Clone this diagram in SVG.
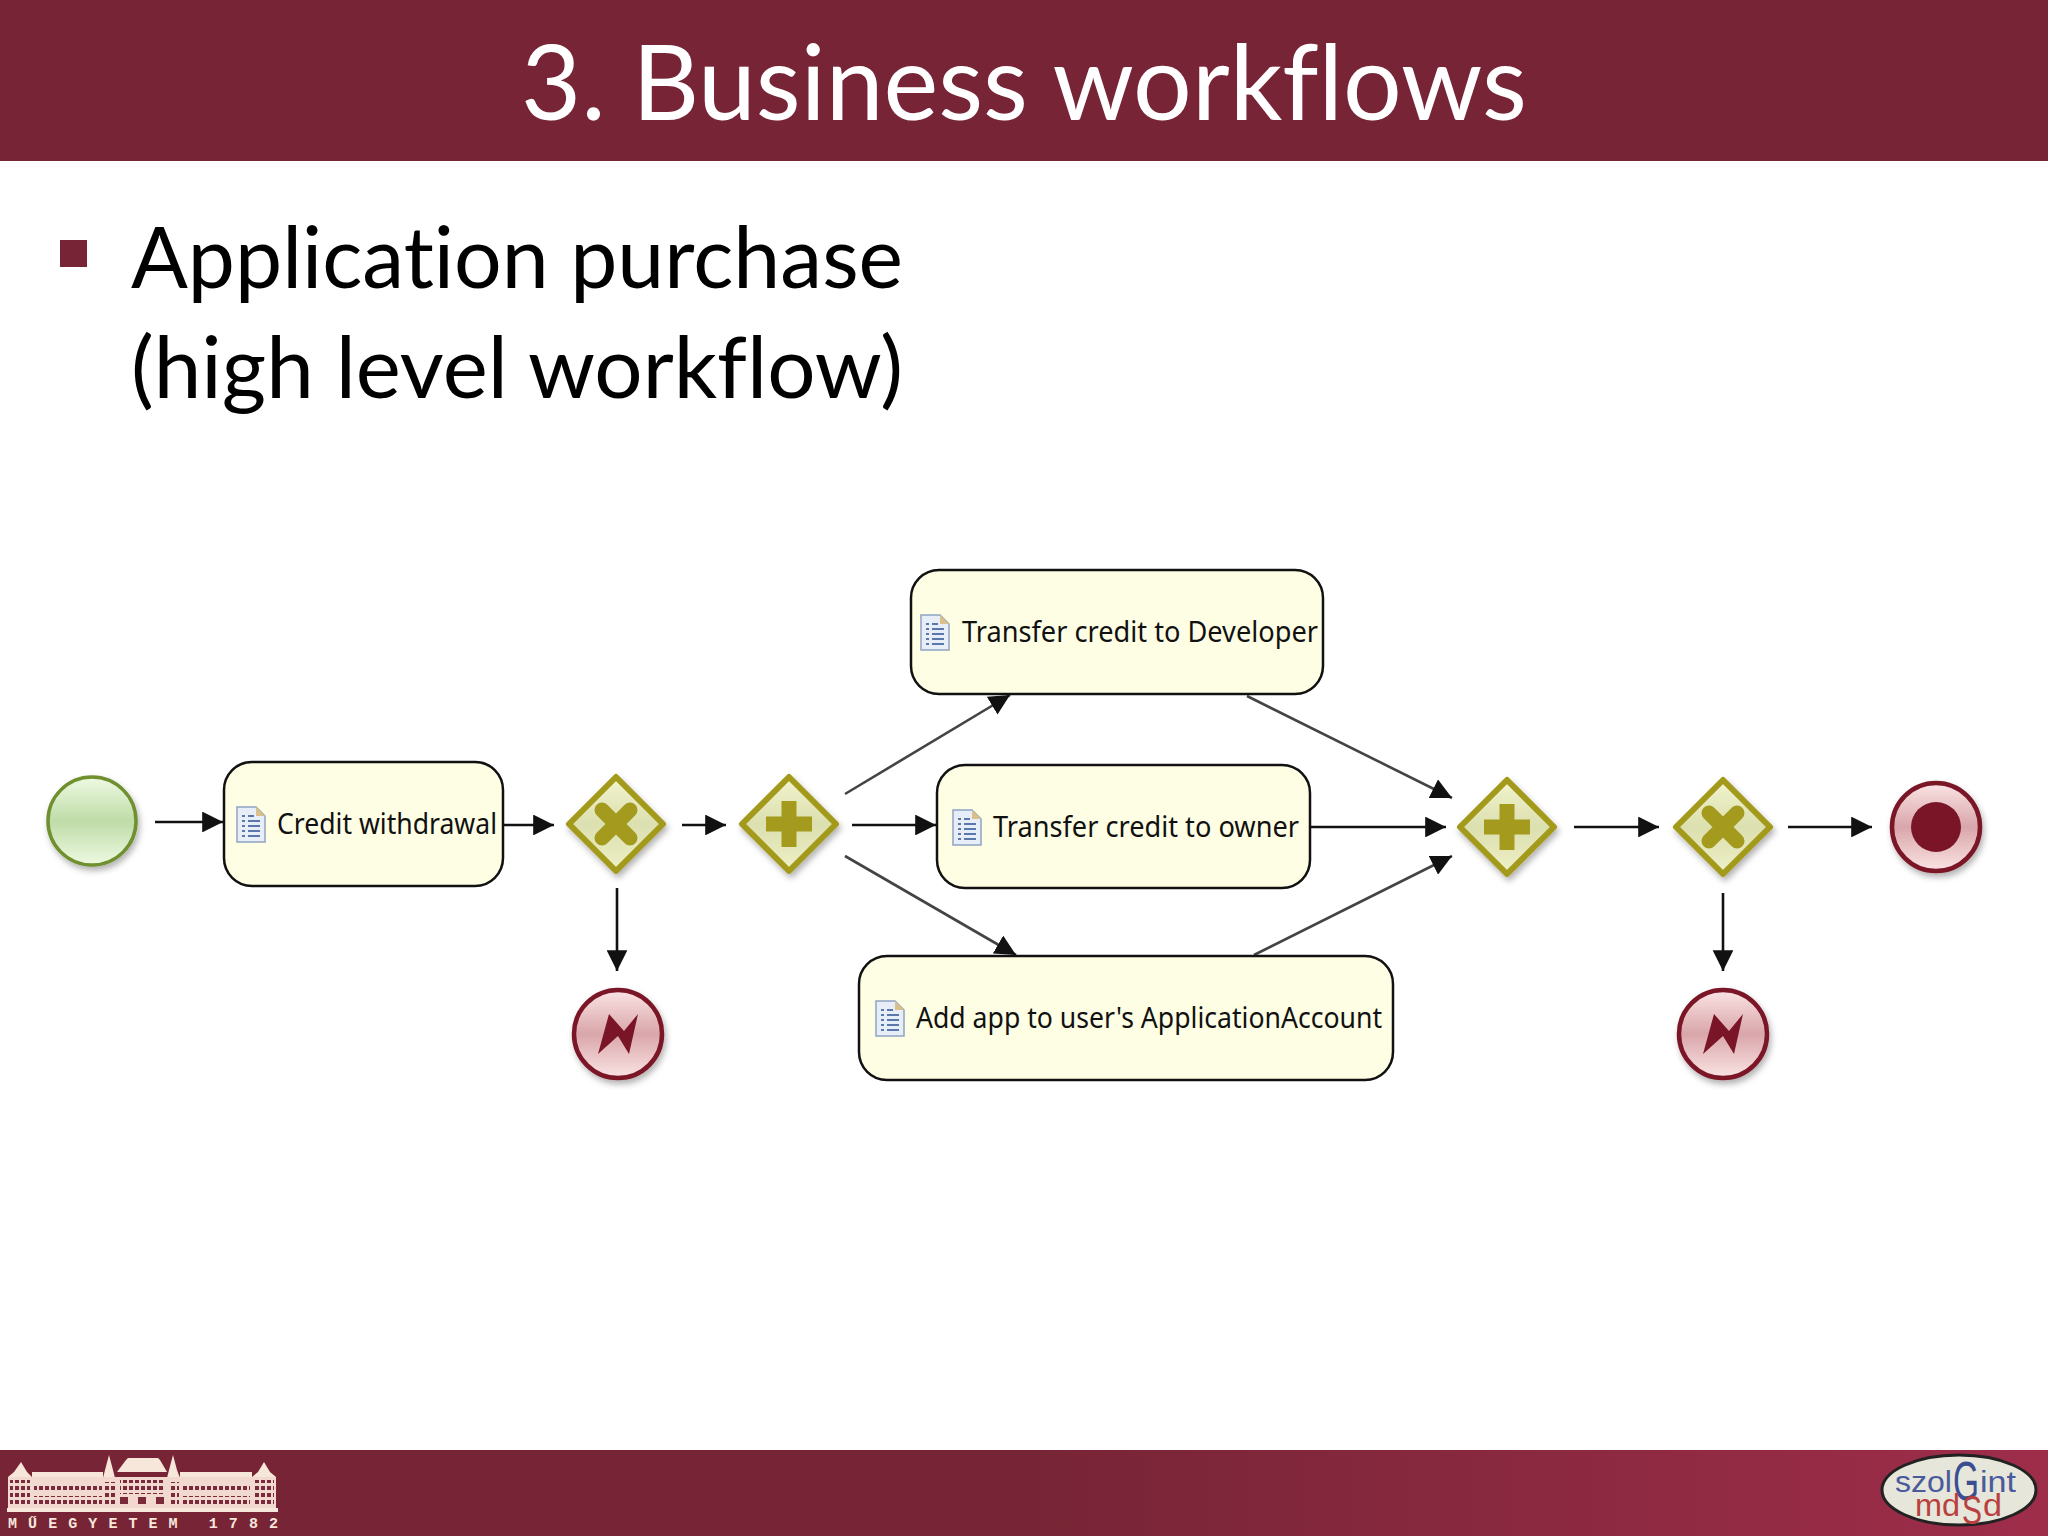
<svg xmlns="http://www.w3.org/2000/svg" width="2048" height="1536" viewBox="0 0 2048 1536">
<style>
.h{font-family:"Lato","Open Sans","Liberation Sans",sans-serif;font-variant-ligatures:none}
.t{font-family:"Noto Sans","Open Sans","Liberation Sans",sans-serif;font-size:29px;fill:#111}
.task{fill:#fefee4;stroke:#111;stroke-width:2.5}
.gw{fill:url(#gg);stroke:#a39a1e;stroke-width:6;stroke-linejoin:round;filter:url(#sh)}
.mark{fill:#a39a1e}
.xm{stroke:#a39a1e;stroke-width:15;stroke-linecap:round}
.err{fill:url(#gr);stroke:#7a1528;stroke-width:4.5;filter:url(#sh)}
.dark{fill:#7a1528}
.c line{stroke:#111;stroke-width:2.6;marker-end:url(#a)}
.c line.d{stroke:#444}
.ft{font-family:"Liberation Mono",monospace;font-weight:bold;fill:#f7e6da;font-size:15px}
.lg{font-family:"Liberation Sans",sans-serif}
</style>
<defs>
<marker id="a" viewBox="0 0 10 10" refX="10" refY="5" markerWidth="8" markerHeight="8" markerUnits="strokeWidth" orient="auto"><path d="M0 0L10 5L0 10Z" fill="#111"/></marker>
<linearGradient id="gf" x1="0" x2="1" y1="0" y2="0"><stop offset="0" stop-color="#772536"/><stop offset=".5" stop-color="#772536"/><stop offset="1" stop-color="#9e2d4a"/></linearGradient>
<linearGradient id="gg" x1="0" x2="0" y1="0" y2="1"><stop offset="0" stop-color="#f2f4cf"/><stop offset=".5" stop-color="#dcdfae"/><stop offset="1" stop-color="#eef0c8"/></linearGradient>
<linearGradient id="gr" x1="0" x2="0" y1="0" y2="1"><stop offset="0" stop-color="#fbe4e4"/><stop offset=".5" stop-color="#d9a6aa"/><stop offset="1" stop-color="#fbe4e4"/></linearGradient>
<linearGradient id="gn" x1="0" x2="0" y1="0" y2="1"><stop offset="0" stop-color="#eef9e2"/><stop offset=".5" stop-color="#bfdca8"/><stop offset="1" stop-color="#eef9e2"/></linearGradient>
<filter id="sh" x="-20%" y="-20%" width="150%" height="150%"><feDropShadow dx="2" dy="4" stdDeviation="3" flood-color="#000" flood-opacity=".3"/></filter>
<pattern id="win" width="6" height="7" patternUnits="userSpaceOnUse" x="8" y="1478"><rect width="6" height="7" fill="#f2d9d0"/><rect x="1" y="1" width="4" height="4" fill="#7a2a3a"/></pattern>
<g id="ic"><path d="M0 0H19L28 9V35H0Z" fill="#e8eef8" stroke="#8fa4c4" stroke-width="1.5"/><path d="M19 0L28 9H19Z" fill="#dcc08a"/><path d="M5 9h3M11 9h6M5 14h3M11 14h12M5 19h3M11 19h12M5 24h3M11 24h12M5 29h3M11 29h12" stroke="#5a78ae" stroke-width="2"/></g>
<g id="gb"><path d="M0 -47L47 0L0 47L-47 0Z" class="gw"/></g>
<g id="x" class="xm"><path d="M-14 -14L14 14M14 -14L-14 14"/></g>
<path id="p" class="mark" d="M-7.5 -23H7.5V-7.5H23V7.5H7.5V23H-7.5V7.5H-23V-7.5H-7.5Z"/>
<path id="z" class="dark" d="M-20 20L-9 -20L6 -3L20 -20L11 20L0 2Z"/>
</defs>
<rect width="2048" height="1536" fill="#fff"/>
<rect width="2048" height="161" fill="#772536"/>
<text class="h" x="1024" y="120" font-size="104" fill="#fff" text-anchor="middle" textLength="1006" lengthAdjust="spacingAndGlyphs">3. Business workflows</text>
<rect x="60" y="240" width="27" height="27" fill="#772536"/>
<text class="h" x="131" y="288" font-size="86" fill="#000" textLength="772" lengthAdjust="spacingAndGlyphs">Application purchase</text>
<text class="h" x="131" y="398" font-size="86" fill="#000" textLength="772" lengthAdjust="spacingAndGlyphs">(high level workflow)</text>

<g class="c" id="connectors">
<line x1="155" y1="822" x2="223" y2="822"/>
<line x1="503" y1="825" x2="554" y2="825"/>
<line x1="682" y1="825" x2="726" y2="825"/>
<line x1="852" y1="825" x2="936" y2="825"/>
<line class="d" x1="845" y1="794" x2="1010" y2="695"/>
<line class="d" x1="845" y1="856" x2="1016" y2="955"/>
<line x1="1310" y1="827" x2="1446" y2="827"/>
<line class="d" x1="1247" y1="696" x2="1452" y2="798"/>
<line class="d" x1="1254" y1="955" x2="1452" y2="856"/>
<line x1="1574" y1="827" x2="1659" y2="827"/>
<line x1="1788" y1="827" x2="1872" y2="827"/>
<line x1="617" y1="888" x2="617" y2="971"/>
<line x1="1723" y1="893" x2="1723" y2="971"/>
</g>

<g id="start"><circle cx="92" cy="821" r="44" fill="url(#gn)" stroke="#6f8f2f" stroke-width="3.5" filter="url(#sh)"/></g>
<g id="task-credit"><rect class="task" x="224" y="762" width="279" height="124" rx="28"/><use href="#ic" x="237" y="807"/><text class="t" x="277" y="834" textLength="220" lengthAdjust="spacingAndGlyphs">Credit withdrawal</text></g>
<g id="gw-x1"><use href="#gb" x="616" y="824"/><use href="#x" x="616" y="824"/></g>
<g id="gw-p1"><use href="#gb" x="789" y="824"/><use href="#p" x="789" y="824"/></g>
<g id="task-dev"><rect class="task" x="911" y="570" width="412" height="124" rx="28"/><use href="#ic" x="921" y="615"/><text class="t" x="962" y="642" textLength="356" lengthAdjust="spacingAndGlyphs">Transfer credit to Developer</text></g>
<g id="task-owner"><rect class="task" x="937" y="765" width="373" height="123" rx="28"/><use href="#ic" x="953" y="810"/><text class="t" x="993" y="837" textLength="306" lengthAdjust="spacingAndGlyphs">Transfer credit to owner</text></g>
<g id="task-add"><rect class="task" x="859" y="956" width="534" height="124" rx="28"/><use href="#ic" x="876" y="1001"/><text class="t" x="916" y="1028" textLength="466" lengthAdjust="spacingAndGlyphs">Add app to user's ApplicationAccount</text></g>
<g id="gw-p2"><use href="#gb" x="1507" y="827"/><use href="#p" x="1507" y="827"/></g>
<g id="gw-x2"><use href="#gb" x="1723" y="827"/><use href="#x" x="1723" y="827"/></g>
<g id="end"><circle class="err" cx="1936" cy="827" r="44"/><circle class="dark" cx="1936" cy="827" r="25"/></g>
<g id="err1"><circle class="err" cx="618" cy="1034" r="44"/><use href="#z" x="618" y="1034"/></g>
<g id="err2"><circle class="err" cx="1723" cy="1034" r="44"/><use href="#z" x="1723" y="1034"/></g>

<rect y="1450" width="2048" height="86" fill="url(#gf)"/>
<g id="logo-left" fill="#f7e6da">
<path d="M8 1477L14 1472L21 1462L27 1472L32 1477Z"/><path d="M252 1477L258 1472L264 1462L270 1472L276 1477Z"/>
<path d="M103 1478L105 1470L109 1455L113 1470L115 1478ZM167 1478L169 1470L173 1455L177 1470L180 1478Z"/>
<path d="M117 1472L126 1460L128 1458H158L160 1460L167 1472Z"/>
<rect x="32" y="1472" width="71" height="5"/><rect x="180" y="1472" width="72" height="5"/>
<rect x="8" y="1477" width="268" height="31" fill="#f2d9d0"/>
<rect x="34" y="1484" width="68" height="8" fill="url(#win)"/><rect x="34" y="1496" width="68" height="8" fill="url(#win)"/>
<rect x="182" y="1484" width="68" height="8" fill="url(#win)"/><rect x="182" y="1496" width="68" height="8" fill="url(#win)"/>
<rect x="10" y="1480" width="20" height="25" fill="url(#win)"/><rect x="254" y="1480" width="20" height="25" fill="url(#win)"/>
<rect x="105" y="1482" width="10" height="22" fill="url(#win)"/><rect x="169" y="1482" width="10" height="22" fill="url(#win)"/>
<rect x="120" y="1480" width="44" height="14" fill="url(#win)"/>
<rect x="120" y="1497" width="8" height="7" fill="#7a2a3a"/><rect x="138" y="1497" width="8" height="7" fill="#7a2a3a"/><rect x="156" y="1497" width="8" height="7" fill="#7a2a3a"/>
<rect x="7" y="1508" width="271" height="4"/>
<text class="ft" x="8" y="1528" textLength="270" lengthAdjust="spacing" xml:space="preserve">MŰEGYETEM 1782</text>
</g>
<g id="logo-right" class="lg">
<ellipse cx="1959" cy="1490" rx="77" ry="35" fill="#e6e6da" stroke="#222" stroke-width="3"/>
<text x="1895" y="1492" font-size="30" fill="#4a5a9c" textLength="57" lengthAdjust="spacingAndGlyphs">szol</text><text x="1980" y="1492" font-size="30" fill="#4a5a9c" textLength="36" lengthAdjust="spacingAndGlyphs">int</text>
<text x="1953" y="1500" font-size="56" fill="#3d4d92" textLength="26" lengthAdjust="spacingAndGlyphs">G</text>
<text x="1915" y="1516" font-size="32" fill="#b8403e" textLength="45" lengthAdjust="spacingAndGlyphs">md</text><text x="1983" y="1516" font-size="32" fill="#b8403e" textLength="19" lengthAdjust="spacingAndGlyphs">d</text>
<text x="1962" y="1524" font-size="40" fill="#b8403e" textLength="20" lengthAdjust="spacingAndGlyphs">S</text>
</g>
</svg>
